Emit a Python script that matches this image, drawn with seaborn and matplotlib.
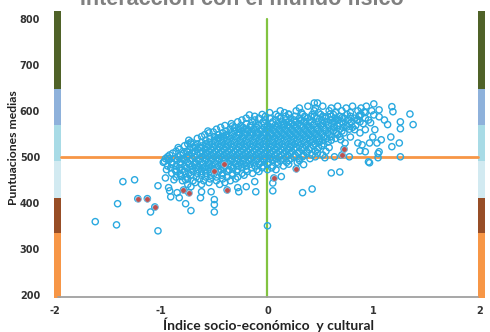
# Puntuaciones medias vs índice socio-económico y cultural (scatter de centros)

import matplotlib
matplotlib.use("Agg")
import matplotlib.pyplot as plt
import seaborn as sns
import pandas as pd

# bandas de nivel (límites y colores)
band_edges = [193, 334, 411, 491, 570, 648, 817]
band_colors = ['#F79646', '#974D26', '#D2EAF1', '#A8DBE6', '#8EB1DB', '#4F6228']

# nube densa: filas de puntuación y posiciones de índice
cloud_levels = [610, 600, 592, 584, 576, 568, 560, 552, 544, 536, 528, 520,
                512, 504, 496, 488, 480, 472, 464, 456, 448, 440,
                606, 596, 588, 580, 572, 564, 556, 548, 540, 532, 524, 516,
                508, 500, 492, 484, 476, 468, 460, 452, 444]
cloud_rows = [
    [0.38, 0.52, 0.66, 0.8, 0.93],
    [0.12, 0.27, 0.44, 0.58, 0.7, 0.85, 0.98],
    [-0.05, 0.08, 0.2, 0.33, 0.42, 0.5, 0.62, 0.75, 0.88],
    [-0.2, -0.08, 0.02, 0.12, 0.22, 0.3, 0.38, 0.47, 0.55, 0.64, 0.72, 0.82, 0.92],
    [-0.28, -0.14, -0.04, 0.05, 0.14, 0.2, 0.27, 0.34, 0.41, 0.48, 0.56, 0.63, 0.7, 0.79, 0.87],
    [-0.4, -0.25, -0.16, -0.08, 0.0, 0.07, 0.13, 0.19, 0.25, 0.31, 0.37, 0.43, 0.5, 0.57,
     0.66, 0.74, 0.83],
    [-0.48, -0.35, -0.27, -0.2, -0.13, -0.06, 0.0, 0.06, 0.11, 0.17, 0.23, 0.29, 0.35, 0.41,
     0.47, 0.54, 0.6, 0.68, 0.77],
    [-0.55, -0.42, -0.34, -0.27, -0.21, -0.15, -0.09, -0.03, 0.03, 0.08, 0.14, 0.2, 0.26,
     0.32, 0.38, 0.44, 0.5, 0.57, 0.65, 0.72],
    [-0.62, -0.5, -0.43, -0.36, -0.3, -0.24, -0.18, -0.12, -0.06, 0.0, 0.05, 0.11, 0.17,
     0.23, 0.29, 0.35, 0.41, 0.47, 0.53, 0.6, 0.68],
    [-0.74, -0.58, -0.5, -0.44, -0.38, -0.32, -0.26, -0.2, -0.14, -0.08, -0.02, 0.04, 0.1,
     0.16, 0.22, 0.28, 0.34, 0.4, 0.46, 0.52, 0.6],
    [-0.75, -0.66, -0.58, -0.52, -0.46, -0.4, -0.34, -0.28, -0.22, -0.16, -0.1, -0.04, 0.02,
     0.08, 0.14, 0.2, 0.26, 0.32, 0.38, 0.45, 0.53],
    [-0.84, -0.7, -0.63, -0.57, -0.51, -0.45, -0.39, -0.33, -0.27, -0.21, -0.15, -0.09, -0.03,
     0.03, 0.09, 0.15, 0.21, 0.27, 0.33, 0.4, 0.48, 0.58],
    [-0.86, -0.76, -0.68, -0.61, -0.55, -0.49, -0.43, -0.37, -0.31, -0.25, -0.19, -0.13,
     -0.07, -0.01, 0.05, 0.11, 0.17, 0.23, 0.3, 0.37, 0.45, 0.55],
    [-0.92, -0.82, -0.74, -0.66, -0.59, -0.53, -0.47, -0.41, -0.35, -0.29, -0.23, -0.17,
     -0.11, -0.05, 0.01, 0.07, 0.13, 0.19, 0.26, 0.34, 0.42, 0.52],
    [-0.96, -0.87, -0.79, -0.71, -0.64, -0.58, -0.52, -0.46, -0.4, -0.34, -0.28, -0.22,
     -0.16, -0.1, -0.04, 0.02, 0.08, 0.15, 0.22, 0.3, 0.4],
    [-0.98, -0.9, -0.82, -0.75, -0.68, -0.62, -0.56, -0.5, -0.44, -0.38, -0.32, -0.26, -0.2,
     -0.13, -0.06, 0.01, 0.09, 0.18, 0.28],
    [-0.94, -0.86, -0.78, -0.71, -0.65, -0.58, -0.52, -0.46, -0.4, -0.34, -0.27, -0.2,
     -0.12, -0.04, 0.05, 0.15],
    [-0.95, -0.87, -0.8, -0.72, -0.65, -0.58, -0.51, -0.44, -0.36, -0.28, -0.2, -0.1, 0.0],
    [-0.9, -0.82, -0.74, -0.66, -0.58, -0.5, -0.42, -0.33, -0.24, -0.14],
    [-0.86, -0.76, -0.67, -0.58, -0.48, -0.38, -0.28],
    [-0.8, -0.7, -0.6, -0.48, -0.35],
    [-0.75, -0.62, -0.45],
    # filas intermedias
    [0.3, 0.45, 0.6, 0.74, 0.88],
    [0.02, 0.16, 0.32, 0.48, 0.64, 0.78, 0.92],
    [-0.12, -0.02, 0.1, 0.17, 0.26, 0.35, 0.44, 0.52, 0.6, 0.68, 0.78, 0.86],
    [-0.24, -0.12, -0.02, 0.08, 0.17, 0.25, 0.32, 0.4, 0.51, 0.59, 0.67, 0.76, 0.84, 0.95],
    [-0.34, -0.2, -0.11, -0.03, 0.04, 0.1, 0.16, 0.23, 0.29, 0.36, 0.44, 0.52, 0.6, 0.68,
     0.77, 0.9],
    [-0.44, -0.31, -0.23, -0.16, -0.1, -0.03, 0.03, 0.09, 0.15, 0.21, 0.27, 0.33, 0.39,
     0.46, 0.53, 0.62, 0.71, 0.8],
    [-0.56, -0.39, -0.31, -0.24, -0.18, -0.12, -0.06, 0.0, 0.06, 0.12, 0.18, 0.24, 0.3,
     0.36, 0.42, 0.48, 0.55, 0.62, 0.7],
    [-0.59, -0.46, -0.39, -0.33, -0.27, -0.21, -0.15, -0.09, -0.03, 0.03, 0.09, 0.15, 0.21,
     0.27, 0.33, 0.39, 0.45, 0.51, 0.58, 0.66],
    [-0.66, -0.54, -0.47, -0.41, -0.35, -0.29, -0.23, -0.17, -0.11, -0.05, 0.01, 0.07, 0.13,
     0.19, 0.25, 0.31, 0.37, 0.43, 0.49, 0.56, 0.64],
    [-0.72, -0.62, -0.55, -0.49, -0.43, -0.37, -0.31, -0.25, -0.19, -0.13, -0.07, -0.01,
     0.05, 0.11, 0.17, 0.23, 0.29, 0.35, 0.42, 0.49, 0.57],
    [-0.78, -0.68, -0.61, -0.55, -0.49, -0.43, -0.37, -0.31, -0.25, -0.19, -0.13, -0.07,
     -0.01, 0.05, 0.11, 0.17, 0.23, 0.3, 0.36, 0.43, 0.51],
    [-0.83, -0.73, -0.66, -0.59, -0.53, -0.47, -0.41, -0.35, -0.29, -0.23, -0.17, -0.11,
     -0.05, 0.01, 0.07, 0.13, 0.19, 0.25, 0.32, 0.39, 0.47],
    [-0.89, -0.79, -0.71, -0.63, -0.57, -0.51, -0.45, -0.39, -0.33, -0.27, -0.21, -0.15,
     -0.09, -0.03, 0.03, 0.09, 0.16, 0.22, 0.29, 0.37, 0.47],
    [-0.94, -0.84, -0.76, -0.69, -0.62, -0.56, -0.5, -0.44, -0.38, -0.32, -0.26, -0.2,
     -0.14, -0.08, -0.02, 0.04, 0.11, 0.18, 0.25, 0.33, 0.45],
    [-0.93, -0.85, -0.78, -0.72, -0.65, -0.59, -0.53, -0.47, -0.41, -0.35, -0.29, -0.23,
     -0.17, -0.1, -0.03, 0.05, 0.12, 0.2, 0.3],
    [-0.9, -0.82, -0.74, -0.68, -0.61, -0.55, -0.49, -0.43, -0.37, -0.3, -0.23, -0.16,
     -0.08, 0.0, 0.1, 0.2],
    [-0.91, -0.83, -0.76, -0.68, -0.61, -0.55, -0.48, -0.41, -0.32, -0.24, -0.15, -0.05, 0.04],
    [-0.86, -0.78, -0.7, -0.62, -0.54, -0.46, -0.38, -0.29, -0.19, -0.08],
    [-0.82, -0.72, -0.62, -0.53, -0.43, -0.33, -0.22],
    [-0.75, -0.64, -0.54, -0.42, -0.3],
    [-0.68, -0.55, -0.4],
]

# centros dispersos / bordes de la nube
x_sparse = [-1.62, -1.41, -1.42, -1.36, -1.25, -1.10, -1.03, -1.03, -0.93, -0.91, -0.83,
            -0.77, -0.72, -0.92, -0.85, -0.96, -0.88, -0.81, -0.72, -0.77, -0.50, -0.50,
            -0.50, 0.00, -0.11, -0.20, -0.27, 0.05, 0.13, 0.33, 0.42, -0.62, -0.53, -0.63,
            -0.12, 0.05, -0.28, 0.08, 0.34, 0.60, 0.68, -0.17, 0.20, -0.33, -0.51, 0.44,
            1.00, 1.17, 1.18, 1.34, 1.37, 1.25, 1.25, 1.16, 1.24, 1.17, 1.25, 1.04, 1.04,
            0.95, 0.87, 0.92, 1.07, 1.05, 1.00, 0.87, 0.59, -0.72, -0.75, -0.93, -0.97,
            -0.81, -0.68, 1.05, 0.99, 1.05, 1.10, 1.13, 0.91, 0.97, 0.85, 0.82, 0.87, 0.92,
            0.96, 1.01, 1.03, 0.78, 0.73, 0.69, 0.66, 0.70, 0.63, 0.47, 0.54, 0.75, 0.85,
            0.89, 0.77, 0.63, 0.54, 0.96, 0.41, 0.31, 0.35, 0.15, 0.22, -0.25, -0.18, -0.10,
            -0.39, -0.46, -0.58, -0.64]
y_sparse = [359, 398, 352, 446, 450, 380, 339, 437, 433, 413, 411,
            398, 383, 426, 422, 454, 450, 457, 435, 450, 407, 396,
            380, 350, 424, 435, 424, 426, 457, 422, 430, 424, 424, 411,
            446, 443, 433, 472, 483, 465, 467, 591, 593, 567, 554, 617,
            615, 609, 598, 593, 570, 576, 561, 543, 530, 522, 500, 498, 507,
            489, 513, 511, 537, 587, 591, 591, 593, 528, 510, 496, 490,
            496, 520, 511, 543, 602, 580, 570, 598, 574, 580, 559, 552, 559,
            530, 559, 530, 543, 530, 537, 580, 585, 565, 617, 587, 565, 530,
            526, 500, 500, 498, 487, 587, 578, 576, 570, 574, 561, 559, 552,
            546, 541, 509, 520]

# centros destacados en rojo
x_red = [-1.22, -1.13, -1.06, -0.79, -0.74, -0.50, -0.38, 0.06, 0.27, 0.70, 0.72, -0.41]
y_red = [409, 409, 391, 428, 422, 470, 428, 454, 474, 504, 517, 485]

xs, ys = [], []
for lvl, row in zip(cloud_levels, cloud_rows):
    xs += row
    ys += [lvl] * len(row)
xs += x_sparse + x_red
ys += y_sparse + y_red
df = pd.DataFrame({'isec': xs, 'punt': ys})
df_red = pd.DataFrame({'isec': x_red, 'punt': y_red})

sns.set_style('white')
plt.rcParams['font.family'] = ['Lato', 'DejaVu Sans']

fig = plt.figure(figsize=(4.9, 3.32), dpi=100)
ax = fig.add_axes([0.110, 0.1024, 0.880, 0.8645])
ax.set_xlim(-2.009, 2.047)
ax.set_ylim(193, 817)

# barras de colores a ambos lados
for i, c in enumerate(band_colors):
    lo, hi = band_edges[i], band_edges[i + 1]
    ax.bar(-1.977, hi - lo, bottom=lo, width=0.065, color=c, linewidth=0, zorder=1)
    ax.bar(2.014, hi - lo, bottom=lo, width=0.065, color=c, linewidth=0, zorder=1)

# líneas de referencia
ax.plot([-1.94, 1.98], [500, 500], color='#F79646', lw=2, zorder=2)
ax.plot([0, 0], [195, 800], color='#82C341', lw=1.6, zorder=2)
ax.plot([-1.97, 1.98], [195, 195], color='#A0A0A0', lw=1.3, zorder=2)

sns.scatterplot(data=df, x='isec', y='punt', ax=ax, marker='o', s=20,
                facecolors='none', edgecolor='#2AA9E0', linewidth=1.0, zorder=3)
sns.scatterplot(data=df_red, x='isec', y='punt', ax=ax, marker='o', s=16,
                color='#C0504D', edgecolor='#8CC4E4', linewidth=0.5, zorder=4)

for s in ax.spines.values():
    s.set_visible(False)
ax.set_xticks([-2, -1, 0, 1, 2])
ax.set_xticklabels(['-2', '-1', '0', '1', '2'])
ax.set_yticks([200, 300, 400, 500, 600, 700, 800])
ax.tick_params(length=0, labelsize=7, labelcolor='#333333')
ax.tick_params(axis='x', pad=6)
ax.tick_params(axis='y', pad=10)
for lbl in ax.get_xticklabels() + ax.get_yticklabels():
    lbl.set_fontweight('bold')
    lbl.set_family('DejaVu Sans')

ax.set_xlabel('Índice socio-económico  y cultural', fontsize=10, fontweight='bold',
              color='#222222', va='center')
ax.xaxis.set_label_coords(0.497, -0.094)
ax.set_ylabel('Puntuaciones medias', fontsize=8.8, fontweight='bold',
              color='#222222', va='center')
ax.yaxis.set_label_coords(-0.093, 0.523)

fig.text(0.494, 0.985, 'Interacción con el mundo físico', ha='center', va='baseline',
         fontsize=15.5, fontweight='bold', color='#808080', family='Liberation Sans')

plt.savefig('out.png', dpi=100)
